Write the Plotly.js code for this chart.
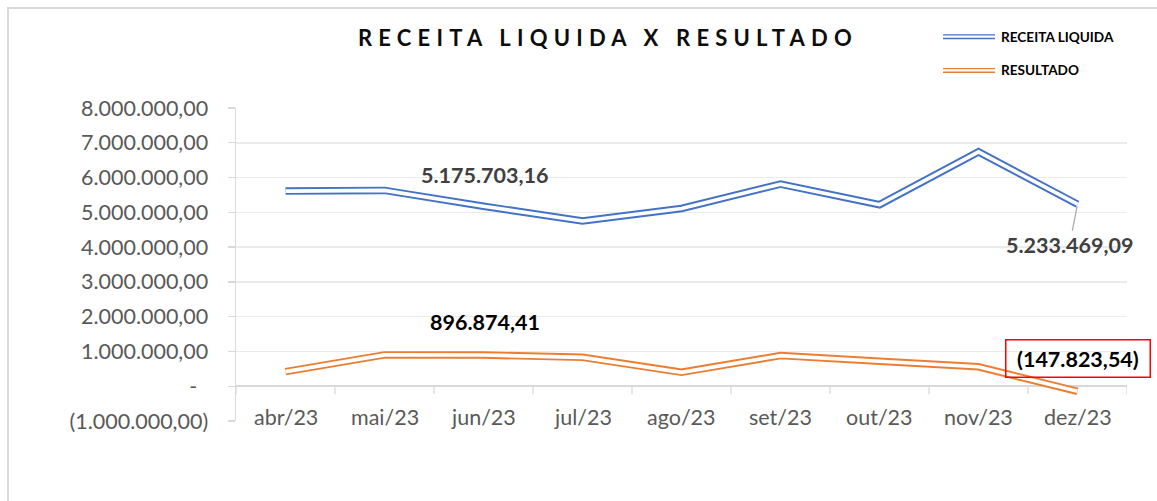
<!DOCTYPE html>
<html>
<head>
<meta charset="utf-8">
<script src="https://cdn.plot.ly/plotly-3.0.1.min.js"></script>
<style>
  html, body { margin: 0; padding: 0; background: #ffffff; }
  #wrap { position: relative; width: 1157px; height: 501px; overflow: hidden; }
  #frame { position: absolute; left: 7px; top: 7px; width: 1160px; height: 510px; border: 2px solid #d9d9d9; box-sizing: border-box; pointer-events: none; z-index: 2; }
  #chart { position: absolute; left: 0; top: 0; width: 1157px; height: 501px; }
</style>
</head>
<body>
<div id="wrap">
  <div id="chart"></div>
  <div id="frame"></div>
</div>
<script>
const categories = ['abr/23', 'mai/23', 'jun/23', 'jul/23', 'ago/23', 'set/23', 'out/23', 'nov/23', 'dez/23'];
const receitaLiquida = [5610000, 5630000, 5175703.16, 4750000, 5110000, 5810000, 5220000, 6740000, 5233469.09];
const resultado = [420000, 900000, 896874.41, 830000, 400000, 880000, 720000, 560000, -147823.54];
const seriesNames = ['RECEITA LIQUIDA', 'RESULTADO'];
const seriesColors = ['#4472C4', '#ED7D31'];
const yTickVals = [8000000, 7000000, 6000000, 5000000, 4000000, 3000000, 2000000, 1000000, 0, -1000000];
const yTickText = ['8.000.000,00', '7.000.000,00', '6.000.000,00', '5.000.000,00', '4.000.000,00', '3.000.000,00', '2.000.000,00', '1.000.000,00', '-\u00a0\u00a0', '(1.000.000,00)'];
const chartTitle = 'RECEITA LIQUIDA X RESULTADO';

function fmtBR(v) {
  const neg = v < 0;
  const a = Math.abs(v);
  const parts = a.toFixed(2).split('.');
  const intPart = parts[0].replace(/\B(?=(\d{3})+(?!\d))/g, '.');
  const s = intPart + ',' + parts[1];
  return neg ? '(' + s + ')' : s;
}

const FONT = 'Lato, "Open Sans", sans-serif';
const LBL = 21.5;
const allSeries = [receitaLiquida, resultado];

const traces = [];
allSeries.forEach((vals, i) => {
  traces.push({
    x: categories, y: vals, type: 'scatter', mode: 'lines',
    line: { color: seriesColors[i], width: 7.5 },
    hoverinfo: 'skip', showlegend: false
  });
  traces.push({
    x: categories, y: vals, type: 'scatter', mode: 'lines',
    line: { color: '#ffffff', width: 3.6 },
    hoverinfo: 'skip', showlegend: false
  });
});

const shapes = [];
// category tick marks on the zero line
for (let i = 0; i <= categories.length; i++) {
  shapes.push({
    type: 'line', xref: 'x', yref: 'y', ysizemode: 'pixel', yanchor: 0,
    x0: i - 0.5, x1: i - 0.5, y0: 0, y1: -8,
    line: { color: '#d9d9d9', width: 1.3 }
  });
}
// legend samples
const legY = [1.228, 1.120];
seriesNames.forEach((n, i) => {
  shapes.push({ type: 'line', xref: 'paper', yref: 'paper', x0: 0.7935, x1: 0.8519, y0: legY[i], y1: legY[i],
    line: { color: seriesColors[i], width: 5 } });
  shapes.push({ type: 'line', xref: 'paper', yref: 'paper', x0: 0.7935, x1: 0.8519, y0: legY[i], y1: legY[i],
    line: { color: '#ffffff', width: 2.2 } });
});

const annotations = [];
// category labels
categories.forEach(c => {
  annotations.push({
    x: c, y: -1000000, xref: 'x', yref: 'y', text: c, showarrow: false,
    xanchor: 'center', yanchor: 'middle', yshift: 4,
    font: { family: FONT, size: LBL, color: '#595959' }
  });
});
// legend labels
seriesNames.forEach((n, i) => {
  annotations.push({
    x: 0.8565, y: legY[i], xref: 'paper', yref: 'paper', text: '<b>' + n + '</b>', showarrow: false,
    xanchor: 'left', yanchor: 'middle',
    font: { family: FONT, size: 13.6, color: '#000000' }
  });
});
// data labels
annotations.push({
  x: categories[2], y: receitaLiquida[2], xref: 'x', yref: 'y', text: '<b>' + fmtBR(receitaLiquida[2]) + '</b>',
  showarrow: false, yanchor: 'middle', yshift: 31, xshift: 1,
  font: { family: FONT, size: LBL, color: '#404040' }
});
annotations.push({
  x: categories[8], y: receitaLiquida[8], xref: 'x', yref: 'y', text: '<b>' + fmtBR(receitaLiquida[8]) + '</b>',
  showarrow: true, arrowhead: 0, arrowwidth: 1.2, arrowcolor: '#a6a6a6', ax: -8, ay: 41, standoff: 2,
  font: { family: FONT, size: LBL, color: '#404040' }
});
annotations.push({
  x: categories[2], y: resultado[2], xref: 'x', yref: 'y', text: '<b>' + fmtBR(resultado[2]) + '</b>',
  showarrow: false, yanchor: 'middle', yshift: 33, xshift: 1,
  font: { family: FONT, size: LBL, color: '#000000' }
});
annotations.push({
  x: categories[8], y: resultado[8], xref: 'x', yref: 'y', text: '\u00a0<b>' + fmtBR(resultado[8]) + '</b>\u00a0',
  showarrow: false, yanchor: 'middle', yshift: 33,
  bordercolor: '#ff0000', borderwidth: 1.5, borderpad: 5, bgcolor: 'rgba(255,255,255,0)',
  font: { family: FONT, size: LBL, color: '#000000' }
});

const layout = {
  width: 1157, height: 501,
  margin: { l: 236, r: 30, t: 108, b: 80, pad: 0 },
  paper_bgcolor: '#ffffff', plot_bgcolor: '#ffffff',
  showlegend: false,
  title: {
    text: '<b>' + chartTitle + '</b>',
    xref: 'container', yref: 'container', x: 0.5255, y: 0.924, xanchor: 'center', yanchor: 'middle',
    font: { family: FONT, size: 22, color: '#0d0d0d' }
  },
  xaxis: {
    type: 'category', range: [-0.5, 8.5], showticklabels: false, showgrid: false,
    zeroline: false, showline: false, ticks: '', fixedrange: true
  },
  yaxis: {
    range: [-1000000, 8000000], tickvals: yTickVals, ticktext: yTickText,
    showgrid: true, gridcolor: '#ebebeb', gridwidth: 1.5,
    zeroline: true, zerolinecolor: '#d9d9d9', zerolinewidth: 1.5,
    showline: true, linecolor: '#d9d9d9', linewidth: 1.5,
    ticks: 'outside', ticklen: 7, tickcolor: '#d9d9d9', tickwidth: 1.3,
    ticklabelstandoff: 15,
    tickfont: { family: FONT, size: LBL, color: '#595959' }, fixedrange: true
  },
  shapes: shapes,
  annotations: annotations
};

Plotly.newPlot('chart', traces, layout, { displayModeBar: false, staticPlot: true }).then(() => {
  const t = document.querySelector('.gtitle');
  if (t) t.style.letterSpacing = '6.2px';
});
</script>
</body>
</html>
